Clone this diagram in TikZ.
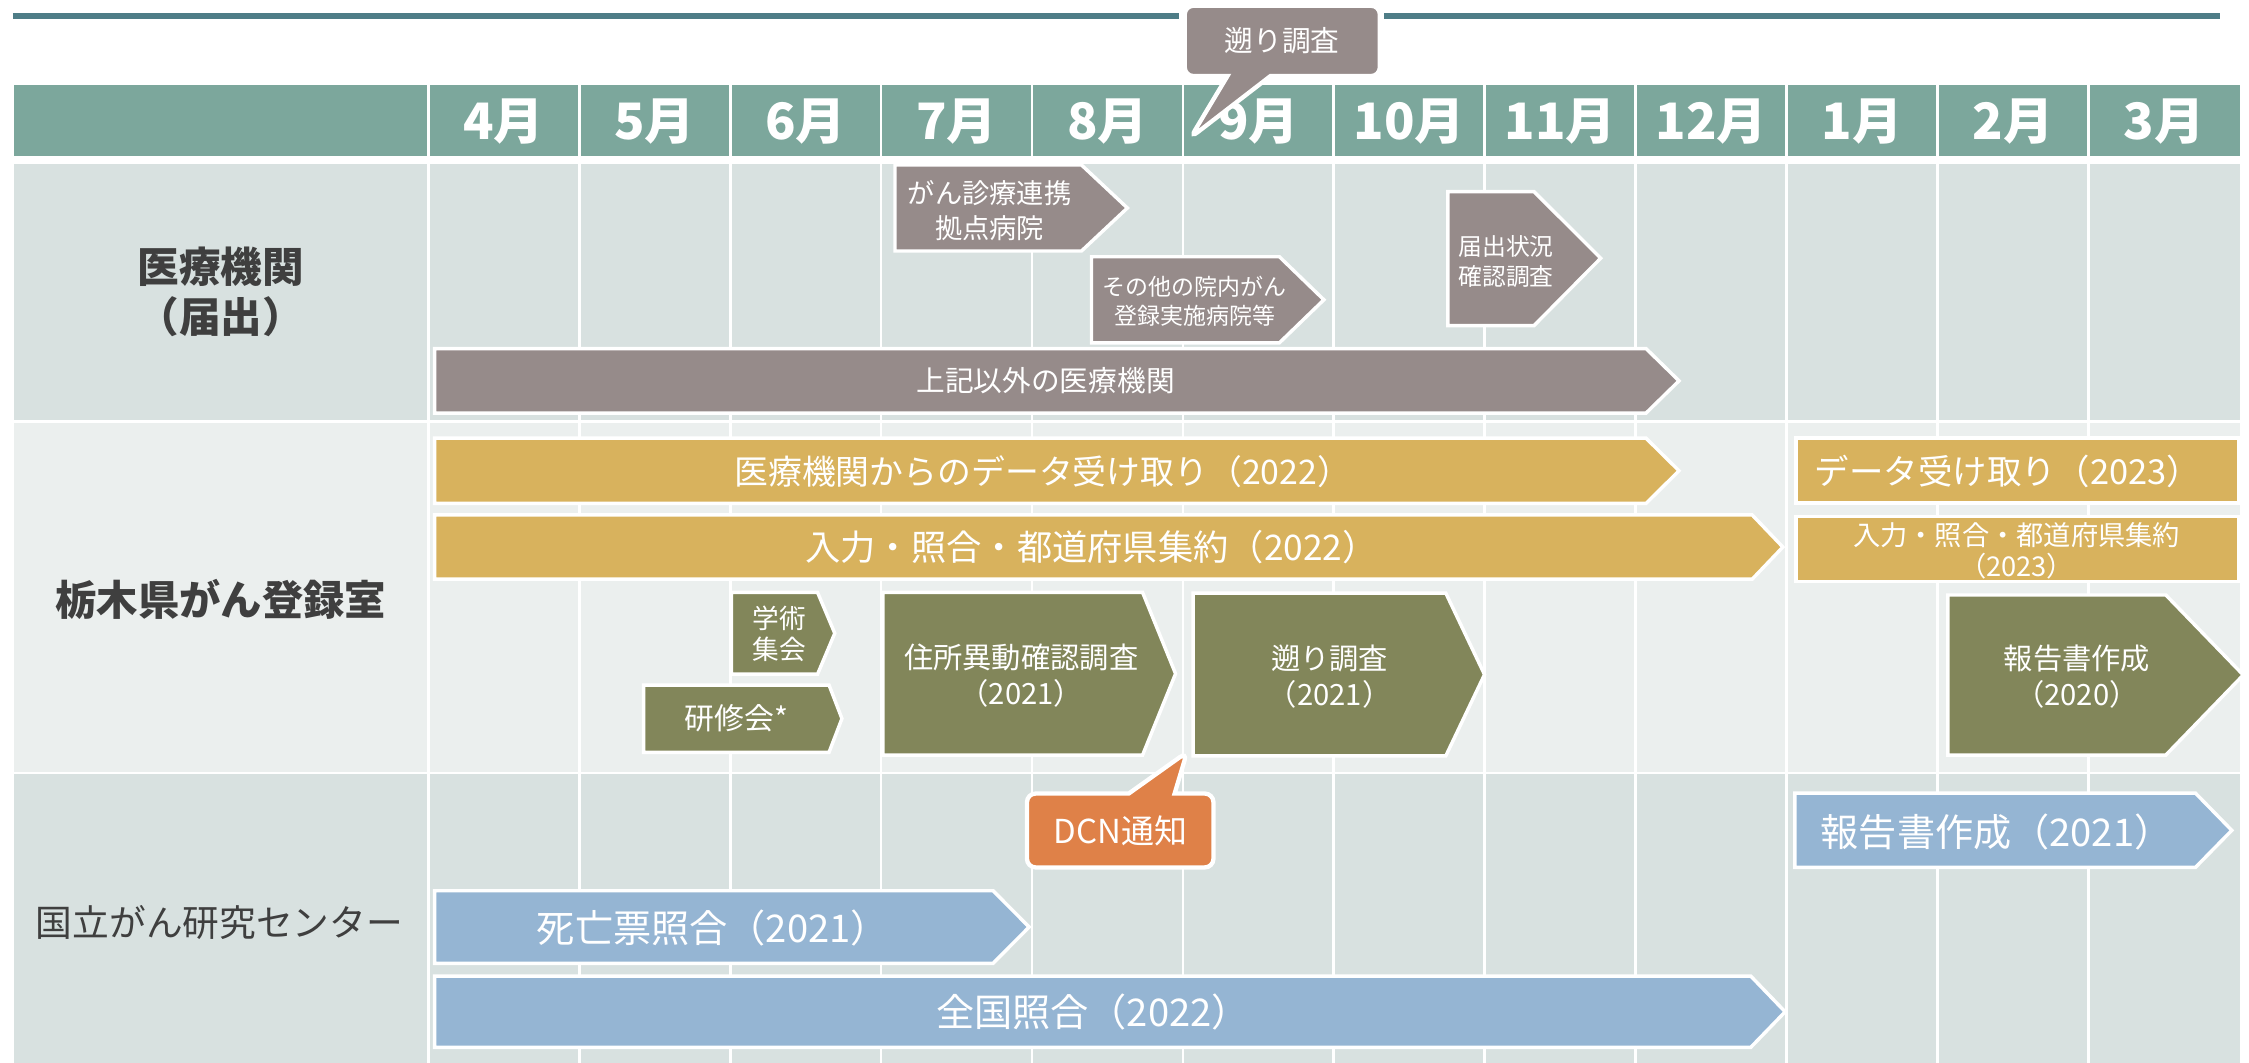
\documentclass[tikz,border=0pt]{standalone}
\usepackage{fontspec}
\setmainfont{Noto Sans CJK JP}
\usetikzlibrary{shapes.callouts}

\definecolor{hdrteal}{HTML}{7CA79C}
\definecolor{ruleteal}{HTML}{4E7D87}
\definecolor{rowdark}{HTML}{D8E1E0}
\definecolor{rowlight}{HTML}{EBEFEE}
\definecolor{grayshape}{HTML}{968B8A}
\definecolor{goldshape}{HTML}{D8B25D}
\definecolor{oliveshape}{HTML}{82865A}
\definecolor{blueshape}{HTML}{95B5D3}
\definecolor{orangeshape}{HTML}{DF8148}
\definecolor{labeltext}{HTML}{3F3F3F}

\begin{document}
\begin{tikzpicture}[
      x=0.5pt, y=-0.5pt,
      grid/.style={white,line width=1pt},
      topline/.style={ruleteal,line width=2.1pt},
      month/.style={text=white,font=\bfseries\fontsize{17.5}{20}\selectfont},
      rowlabel/.style={text=labeltext,align=center,font=\bfseries\fontsize{14.5}{17.5}\selectfont},
      bar/.style={draw=white,line width=1.2pt},
      txt/.style={text=white,align=center,inner sep=0pt},
      note/.style={rectangle callout,draw=white,line width=1.5pt,rounded corners=3pt,
        text=white,inner sep=0pt}
    ]
    \useasboundingbox (0,0) rectangle (1568,741);
    % Draw the table background.
    \fill[white] (0,0) rectangle (1568,741);
    \fill[hdrteal] (10,59.3) rectangle (1562,108.8);
    \fill[rowdark] (10,114.4) rectangle (1562,292.8);
    \fill[rowlight] (10,294.7) rectangle (1562,538);
    \fill[rowdark] (10,539.6) rectangle (1562,741);
    \foreach \i in {0,...,11}
      \draw[grid] ({298.5+105.25*\i},59.3) -- ({298.5+105.25*\i},741);
    % Draw the months.
    \foreach \m [count=\i] in {4,5,6,7,8,9,10,11,12,1,2,3}
      \node[month] (m\i) at ({298.5+105.25*(\i-0.5)},85) {\m 月};
    % Draw the row labels.
    \node[rowlabel] (iryo) at (154,203.5) {医療機関\\（届出）};
    \node[rowlabel,font=\bfseries\fontsize{14.4}{17}\selectfont] (tochigi) at (154,418) {栃木県がん登録室};
    \node[rowlabel,font=\fontsize{12.8}{15}\selectfont] (ncc) at (153,643.5) {国立がん研究センター};
    % Draw the top rule.
    \draw[topline] (9,11.4) -- (822,11.4);
    \draw[topline] (965,11.4) -- (1548,11.4);
    % Draw the hospital submissions.
    \filldraw[bar,fill=grayshape] (624,115) -- (754,115) -- (786,145) -- (754,175) -- (624,175) -- cycle;
    \node[txt,font=\fontsize{9.5}{12.2}\selectfont] (kyoten) at (690,147) {がん診療連携\\拠点病院};
    \filldraw[bar,fill=grayshape] (761,179) -- (892,179) -- (923,209) -- (892,239) -- (761,239) -- cycle;
    \node[txt,font=\fontsize{8}{9.8}\selectfont] (sonota) at (833,210) {その他の院内がん\\登録実施病院等};
    \filldraw[bar,fill=grayshape] (1009.5,133.6) -- (1069.5,133.6) -- (1116,180) -- (1069.5,227) -- (1009.5,227) -- cycle;
    \node[txt,font=\fontsize{8.3}{10.5}\selectfont] (todokede) at (1050,182.5) {届出状況\\確認調査};
    \filldraw[bar,fill=grayshape] (303,243) -- (1147.6,243) -- (1170.6,265.5) -- (1147.6,288) -- (303,288) -- cycle;
    \node[txt,font=\fontsize{10}{12}\selectfont] (jouki) at (729,265.5) {上記以外の医療機関};
    % Draw the registry tasks.
    \filldraw[bar,fill=goldshape] (303,305.5) -- (1147.6,305.5) -- (1170.6,328.2) -- (1147.6,351) -- (303,351) -- cycle;
    \node[txt,font=\fontsize{11.8}{13}\selectfont] (uketori22) at (727,328.5) {医療機関からのデータ受け取り（2022）};
    \filldraw[bar,fill=goldshape] (1252,305.5) rectangle (1561,350.7);
    \node[txt,font=\fontsize{12}{13}\selectfont] (uketori23) at (1400,328.5) {データ受け取り（2023）};
    \filldraw[bar,fill=goldshape] (303,359) -- (1221.6,359) -- (1243,381.4) -- (1221.6,403.8) -- (303,403.8) -- cycle;
    \node[txt,font=\fontsize{12.3}{13}\selectfont] (shuyaku22) at (761,381.5) {入力・照合・都道府県集約（2022）};
    \filldraw[bar,fill=goldshape] (1252,360) rectangle (1561,405.5);
    \node[txt,font=\fontsize{9.5}{11}\selectfont] (shuyaku23) at (1406,384) {入力・照合・都道府県集約\\（2023）};
    \filldraw[bar,fill=oliveshape] (510,413) -- (570,413) -- (582,441.5) -- (570,470) -- (510,470) -- cycle;
    \node[txt,font=\fontsize{9.3}{11}\selectfont] (gakujutsu) at (543.5,442) {学術\\集会};
    \filldraw[bar,fill=oliveshape] (448.7,477.6) -- (578,477.6) -- (587,501) -- (578,524.5) -- (448.7,524.5) -- cycle;
    \node[txt,font=\fontsize{10.4}{12}\selectfont] (kenshu) at (513.5,501) {研修会*};
    \filldraw[bar,fill=oliveshape] (615.5,413) -- (796.6,413) -- (819.6,469.7) -- (796.6,526.4) -- (615.5,526.4) -- cycle;
    \node[txt,font=\fontsize{10.2}{12.5}\selectfont] (jusho) at (712,471) {住所異動確認調査\\（2021）};
    \filldraw[bar,fill=oliveshape] (831.8,413.5) -- (1008,413.5) -- (1035,470.3) -- (1008,527) -- (831.8,527) -- cycle;
    \node[txt,font=\fontsize{10.2}{12.5}\selectfont] (sakanobori) at (927,471.5) {遡り調査\\（2021）};
    \filldraw[bar,fill=oliveshape] (1358,414.8) -- (1510,414.8) -- (1564,470.6) -- (1510,526.4) -- (1358,526.4) -- cycle;
    \node[txt,font=\fontsize{10.2}{12.5}\selectfont] (houkoku20) at (1448,471.5) {報告書作成\\（2020）};
    % Draw the national centre tasks.
    \filldraw[bar,fill=blueshape] (1251.3,553) -- (1530.7,553) -- (1556,578.9) -- (1530.7,604.7) -- (1251.3,604.7) -- cycle;
    \node[txt,font=\fontsize{13.3}{14}\selectfont] (houkoku21) at (1392,580) {報告書作成（2021）};
    \filldraw[bar,fill=blueshape] (303,621) -- (692.4,621) -- (717.5,646.3) -- (692.4,671.6) -- (303,671.6) -- cycle;
    \node[txt,font=\fontsize{13.3}{14}\selectfont] (shibou) at (497,647) {死亡票照合（2021）};
    \filldraw[bar,fill=blueshape] (303,680.5) -- (1220.6,680.5) -- (1244.6,705.4) -- (1220.6,730.2) -- (303,730.2) -- cycle;
    \node[txt,font=\fontsize{13.3}{14}\selectfont] (zenkoku) at (762,705.5) {全国照合（2022）};
    % Draw the callouts.
    \node[note,fill=grayshape,minimum width=68pt,minimum height=24.5pt,
      callout absolute pointer={(830,96)},callout pointer width=15pt,
      font=\fontsize{10}{12}\selectfont] (topnote) at (894,28.5) {遡り調査};
    \node[note,fill=orangeshape,minimum width=65pt,minimum height=25.75pt,
      callout absolute pointer={(827.6,524.3)},callout pointer width=16pt,
      font=\fontsize{11.5}{13}\selectfont] (dcn) at (781,579) {DCN通知};
    \end{tikzpicture}
\end{document}
